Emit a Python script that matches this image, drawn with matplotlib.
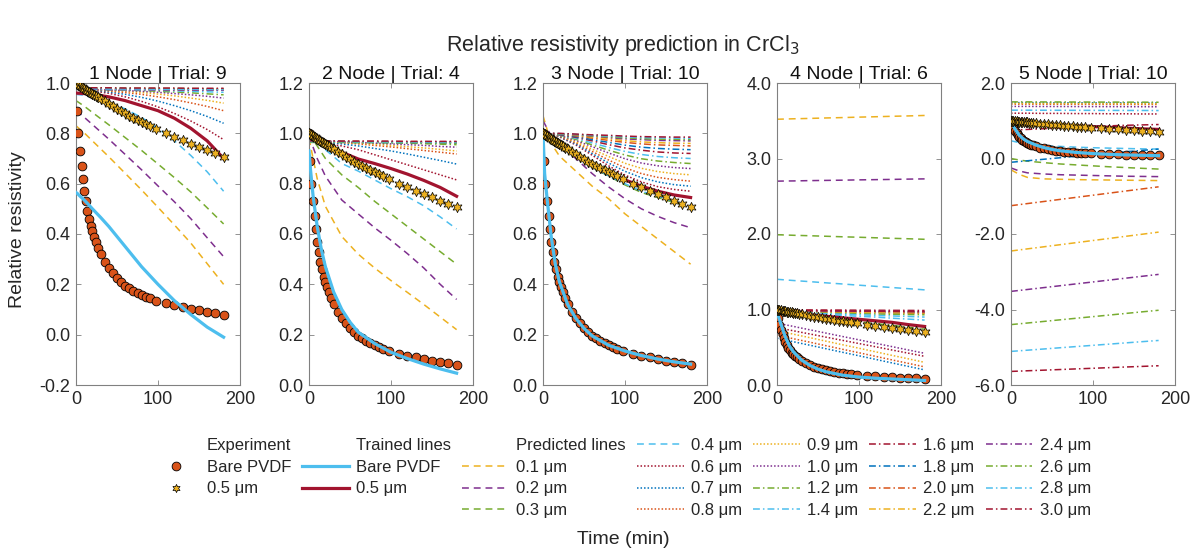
import matplotlib
matplotlib.use('Agg')
import matplotlib.pyplot as plt
from matplotlib.lines import Line2D
from matplotlib.ticker import FormatStrFormatter

plt.rcParams['font.family'] = ['Liberation Sans', 'DejaVu Sans']
plt.rcParams['axes.unicode_minus'] = False

# ---------------- data ----------------
T_EXP = [0, 1, 3, 5, 7, 8.5, 10, 12, 14, 16, 18, 20, 22, 24, 27, 30, 35, 40, 45, 50, 55, 60,
         65, 70, 75, 80, 85, 90, 98, 110, 120, 130, 140, 150, 160, 170, 180]
EXP_BARE = [1.0, 0.89, 0.80, 0.73, 0.67, 0.62, 0.57, 0.53, 0.49, 0.46, 0.43, 0.41, 0.39, 0.37,
            0.345, 0.32, 0.29, 0.265, 0.245, 0.225, 0.21, 0.195, 0.185, 0.175, 0.165, 0.158,
            0.15, 0.145, 0.135, 0.125, 0.117, 0.11, 0.103, 0.097, 0.092, 0.087, 0.08]
EXP_05 = [1.0, 0.997, 0.993, 0.988, 0.984, 0.98, 0.977, 0.973, 0.969, 0.965, 0.961, 0.957,
          0.953, 0.949, 0.943, 0.937, 0.927, 0.917, 0.907, 0.897, 0.888, 0.879, 0.87, 0.861,
          0.853, 0.845, 0.837, 0.829, 0.817, 0.80, 0.786, 0.772, 0.759, 0.746, 0.733, 0.72, 0.707]

T_FIT = [0, 2, 5, 10, 15, 20, 30, 40, 50, 60, 80, 100, 120, 140, 160, 180]
T_PRED = [0, 10, 20, 40, 60, 80, 100, 120, 140, 160, 180]

THICKNESS = ['0.1', '0.2', '0.3', '0.4', '0.6', '0.7', '0.8', '0.9', '1.0', '1.2', '1.4',
             '1.6', '1.8', '2.0', '2.2', '2.4', '2.6', '2.8', '3.0']

PANEL_TITLES = ['1 Node | Trial: 9', '2 Node | Trial: 4', '3 Node | Trial: 10',
                '4 Node | Trial: 6', '5 Node | Trial: 10']
YLIMS = [(-0.2, 1.0), (0.0, 1.2), (0.0, 1.2), (0.0, 4.0), (-6.0, 2.0)]
YTICKS = [[-0.2, 0.0, 0.2, 0.4, 0.6, 0.8, 1.0],
          [0.0, 0.2, 0.4, 0.6, 0.8, 1.0, 1.2],
          [0.0, 0.2, 0.4, 0.6, 0.8, 1.0, 1.2],
          [0.0, 1.0, 2.0, 3.0, 4.0],
          [-6.0, -4.0, -2.0, 0.0, 2.0]]

# trained lines (bare PVDF on T_FIT, 0.5 um on T_PRED)
P1_BARE = [0.565, 0.56, 0.55, 0.535, 0.518, 0.50, 0.466, 0.43, 0.39, 0.35, 0.27, 0.20, 0.135, 0.08, 0.03, -0.01]
P2_BARE = [0.93, 0.85, 0.75, 0.63, 0.54, 0.47, 0.37, 0.30, 0.25, 0.21, 0.165, 0.13, 0.105, 0.083, 0.064, 0.047]
P3_BARE = [1.0, 0.84, 0.74, 0.59, 0.48, 0.41, 0.32, 0.265, 0.225, 0.195, 0.158, 0.135, 0.117, 0.103, 0.092, 0.083]
P4_BARE = [1.0, 0.9, 0.8, 0.64, 0.52, 0.44, 0.33, 0.26, 0.21, 0.175, 0.13, 0.105, 0.09, 0.08, 0.07, 0.06]
P5_BARE = [1.0, 0.9, 0.78, 0.62, 0.52, 0.45, 0.36, 0.29, 0.24, 0.205, 0.16, 0.13, 0.11, 0.095, 0.085, 0.075]

P1_05 = [0.96, 0.958, 0.955, 0.945, 0.93, 0.91, 0.89, 0.86, 0.82, 0.77, 0.70]
P2_05 = [1.0, 0.985, 0.96, 0.925, 0.898, 0.88, 0.86, 0.838, 0.813, 0.785, 0.75]
P3_05 = [1.0, 0.985, 0.965, 0.92, 0.875, 0.845, 0.815, 0.79, 0.77, 0.755, 0.745]
P4_05 = [0.97, 0.96, 0.95, 0.93, 0.91, 0.89, 0.87, 0.85, 0.83, 0.80, 0.775]
P5_05 = [1.0, 0.98, 0.96, 0.92, 0.89, 0.865, 0.845, 0.825, 0.805, 0.785, 0.77]

# predicted lines, one row per thickness (on T_PRED)
P1_PRED = [
    [0.83, 0.802, 0.77, 0.707, 0.641, 0.575, 0.506, 0.436, 0.364, 0.282, 0.20],
    [0.89, 0.864, 0.835, 0.777, 0.716, 0.655, 0.591, 0.528, 0.461, 0.385, 0.31],
    [0.93, 0.908, 0.883, 0.834, 0.783, 0.732, 0.678, 0.624, 0.567, 0.504, 0.44],
    [0.955, 0.951, 0.943, 0.924, 0.897, 0.863, 0.82, 0.77, 0.712, 0.647, 0.57],
    [0.975, 0.973, 0.969, 0.959, 0.945, 0.927, 0.905, 0.879, 0.849, 0.815, 0.775],
    [0.975, 0.974, 0.971, 0.964, 0.955, 0.943, 0.928, 0.91, 0.89, 0.867, 0.84],
    [0.975, 0.974, 0.972, 0.968, 0.962, 0.955, 0.945, 0.934, 0.921, 0.907, 0.89],
    [0.975, 0.974, 0.973, 0.971, 0.967, 0.962, 0.956, 0.949, 0.94, 0.931, 0.92],
    [0.975, 0.975, 0.974, 0.972, 0.97, 0.967, 0.963, 0.958, 0.953, 0.947, 0.94],
    [0.975, 0.975, 0.974, 0.973, 0.972, 0.97, 0.967, 0.964, 0.961, 0.957, 0.953],
    [0.975, 0.975, 0.975, 0.974, 0.973, 0.972, 0.971, 0.969, 0.967, 0.965, 0.963],
    [0.977, 0.977, 0.977, 0.976, 0.976, 0.975, 0.975, 0.974, 0.974, 0.973, 0.972],
    [0.979, 0.979, 0.979, 0.978, 0.978, 0.977, 0.977, 0.977, 0.976, 0.976, 0.975],
    [0.976, 0.976, 0.976, 0.975, 0.975, 0.975, 0.974, 0.974, 0.974, 0.973, 0.973],
    [0.978, 0.978, 0.978, 0.977, 0.977, 0.977, 0.976, 0.976, 0.976, 0.975, 0.975],
    [0.975, 0.975, 0.975, 0.974, 0.974, 0.974, 0.973, 0.973, 0.972, 0.972, 0.971],
    [0.98, 0.98, 0.98, 0.979, 0.979, 0.979, 0.978, 0.978, 0.978, 0.977, 0.977],
    [0.977, 0.977, 0.977, 0.976, 0.976, 0.976, 0.975, 0.975, 0.975, 0.974, 0.974],
    [0.981, 0.981, 0.981, 0.981, 0.98, 0.98, 0.98, 0.98, 0.979, 0.979, 0.979],
]
P2_PRED = [
    [0.98, 0.82, 0.71, 0.59, 0.52, 0.465, 0.415, 0.368, 0.32, 0.27, 0.22],
    [0.99, 0.90, 0.83, 0.735, 0.68, 0.625, 0.575, 0.522, 0.465, 0.40, 0.34],
    [1.0, 0.95, 0.90, 0.835, 0.785, 0.73, 0.68, 0.63, 0.58, 0.53, 0.48],
    [1.0, 0.97, 0.935, 0.88, 0.85, 0.815, 0.78, 0.748, 0.712, 0.668, 0.62],
    [0.97, 0.965, 0.96, 0.95, 0.935, 0.915, 0.895, 0.875, 0.855, 0.835, 0.815],
    [0.97, 0.968, 0.965, 0.958, 0.95, 0.94, 0.93, 0.918, 0.905, 0.892, 0.878],
    [0.97, 0.969, 0.967, 0.963, 0.958, 0.952, 0.946, 0.939, 0.932, 0.925, 0.918],
    [0.97, 0.969, 0.968, 0.965, 0.961, 0.957, 0.952, 0.947, 0.942, 0.936, 0.93],
    [0.97, 0.97, 0.969, 0.967, 0.964, 0.961, 0.958, 0.955, 0.952, 0.948, 0.945],
    [0.97, 0.97, 0.969, 0.968, 0.967, 0.965, 0.963, 0.961, 0.959, 0.957, 0.955],
    [0.968, 0.968, 0.967, 0.967, 0.966, 0.966, 0.965, 0.964, 0.963, 0.962, 0.961],
    [0.967, 0.967, 0.967, 0.966, 0.966, 0.966, 0.966, 0.965, 0.965, 0.965, 0.965],
    [0.965, 0.965, 0.965, 0.964, 0.964, 0.964, 0.963, 0.963, 0.963, 0.962, 0.962],
    [0.969, 0.969, 0.969, 0.968, 0.968, 0.968, 0.967, 0.967, 0.967, 0.966, 0.966],
    [0.966, 0.966, 0.966, 0.966, 0.965, 0.965, 0.965, 0.965, 0.964, 0.964, 0.964],
    [0.968, 0.968, 0.968, 0.967, 0.967, 0.967, 0.967, 0.966, 0.966, 0.966, 0.966],
    [0.964, 0.964, 0.964, 0.964, 0.963, 0.963, 0.963, 0.963, 0.962, 0.962, 0.962],
    [0.967, 0.967, 0.967, 0.967, 0.966, 0.966, 0.966, 0.966, 0.965, 0.965, 0.965],
    [0.97, 0.97, 0.97, 0.969, 0.969, 0.969, 0.969, 0.968, 0.968, 0.968, 0.968],
]
P3_PRED = [
    [1.07, 0.96, 0.91, 0.85, 0.79, 0.74, 0.68, 0.63, 0.58, 0.53, 0.48],
    [1.05, 0.99, 0.955, 0.90, 0.84, 0.787, 0.74, 0.70, 0.67, 0.645, 0.625],
    [1.0, 0.98, 0.955, 0.91, 0.865, 0.83, 0.795, 0.765, 0.745, 0.725, 0.71],
    [1.0, 0.98, 0.955, 0.91, 0.87, 0.83, 0.80, 0.77, 0.75, 0.73, 0.715],
    [1.0, 0.995, 0.986, 0.954, 0.913, 0.871, 0.834, 0.807, 0.788, 0.777, 0.77],
    [1.0, 0.996, 0.987, 0.958, 0.92, 0.882, 0.849, 0.824, 0.807, 0.796, 0.79],
    [1.0, 0.996, 0.989, 0.962, 0.928, 0.894, 0.863, 0.84, 0.825, 0.816, 0.81],
    [1.0, 0.997, 0.99, 0.967, 0.937, 0.908, 0.881, 0.861, 0.848, 0.84, 0.835],
    [1.0, 0.997, 0.992, 0.972, 0.947, 0.922, 0.899, 0.882, 0.871, 0.864, 0.86],
    [1.0, 0.998, 0.993, 0.976, 0.954, 0.933, 0.914, 0.899, 0.89, 0.884, 0.88],
    [1.0, 0.998, 0.994, 0.98, 0.962, 0.944, 0.928, 0.916, 0.908, 0.903, 0.90],
    [1.0, 0.998, 0.995, 0.984, 0.97, 0.955, 0.942, 0.933, 0.926, 0.922, 0.92],
    [1.0, 0.999, 0.996, 0.987, 0.975, 0.964, 0.953, 0.945, 0.94, 0.937, 0.935],
    [1.0, 0.999, 0.997, 0.99, 0.981, 0.972, 0.964, 0.958, 0.954, 0.952, 0.95],
    [1.0, 0.999, 0.998, 0.992, 0.985, 0.978, 0.971, 0.966, 0.963, 0.961, 0.96],
    [1.0, 0.999, 0.998, 0.994, 0.989, 0.983, 0.978, 0.975, 0.972, 0.971, 0.97],
    [1.0, 1.0, 0.998, 0.995, 0.99, 0.986, 0.982, 0.979, 0.977, 0.976, 0.975],
    [1.0, 1.0, 0.999, 0.996, 0.992, 0.989, 0.986, 0.983, 0.982, 0.981, 0.98],
    [1.0, 1.0, 1.0, 0.997, 0.994, 0.992, 0.989, 0.987, 0.986, 0.985, 0.985],
]
P4_PRED = [
    [3.52, 3.523, 3.526, 3.531, 3.537, 3.542, 3.548, 3.553, 3.559, 3.564, 3.57],
    [2.70, 2.702, 2.703, 2.707, 2.71, 2.713, 2.717, 2.72, 2.723, 2.727, 2.73],
    [1.99, 1.987, 1.983, 1.977, 1.97, 1.963, 1.957, 1.95, 1.943, 1.937, 1.93],
    [1.40, 1.392, 1.384, 1.369, 1.353, 1.338, 1.322, 1.307, 1.291, 1.276, 1.26],
    [0.76, 0.739, 0.718, 0.676, 0.633, 0.591, 0.549, 0.507, 0.464, 0.422, 0.38],
    [0.62, 0.597, 0.573, 0.527, 0.48, 0.433, 0.387, 0.34, 0.293, 0.247, 0.20],
    [0.66, 0.637, 0.613, 0.567, 0.52, 0.473, 0.427, 0.38, 0.333, 0.287, 0.24],
    [0.72, 0.697, 0.673, 0.627, 0.58, 0.533, 0.487, 0.44, 0.393, 0.347, 0.30],
    [0.82, 0.798, 0.776, 0.731, 0.687, 0.642, 0.598, 0.553, 0.509, 0.464, 0.42],
    [0.95, 0.94, 0.93, 0.91, 0.89, 0.865, 0.84, 0.815, 0.79, 0.765, 0.74],
    [0.96, 0.955, 0.95, 0.94, 0.93, 0.92, 0.91, 0.90, 0.885, 0.873, 0.86],
    [0.995, 0.995, 0.994, 0.994, 0.993, 0.992, 0.991, 0.99, 0.989, 0.988, 0.987],
    [0.98, 0.979, 0.978, 0.976, 0.974, 0.972, 0.97, 0.968, 0.965, 0.962, 0.96],
    [0.97, 0.969, 0.968, 0.966, 0.964, 0.962, 0.96, 0.958, 0.955, 0.952, 0.95],
    [0.975, 0.974, 0.973, 0.971, 0.969, 0.967, 0.965, 0.963, 0.96, 0.958, 0.955],
    [0.985, 0.984, 0.984, 0.982, 0.98, 0.979, 0.977, 0.975, 0.974, 0.972, 0.97],
    [0.96, 0.958, 0.957, 0.953, 0.95, 0.947, 0.943, 0.94, 0.937, 0.933, 0.93],
    [0.965, 0.961, 0.958, 0.951, 0.944, 0.937, 0.93, 0.922, 0.915, 0.908, 0.90],
    [0.99, 0.989, 0.988, 0.986, 0.984, 0.982, 0.98, 0.978, 0.976, 0.974, 0.972],
]
P5_PRED = [
    [-0.30, -0.42, -0.50, -0.54, -0.55, -0.56, -0.565, -0.57, -0.575, -0.58, -0.585],
    [-0.25, -0.33, -0.38, -0.41, -0.43, -0.44, -0.45, -0.46, -0.47, -0.475, -0.48],
    [0.0, -0.04, -0.07, -0.11, -0.145, -0.17, -0.195, -0.22, -0.24, -0.26, -0.28],
    [0.47, 0.42, 0.38, 0.34, 0.32, 0.30, 0.285, 0.275, 0.265, 0.255, 0.25],
    [1.20, 1.20, 1.20, 1.195, 1.195, 1.19, 1.19, 1.185, 1.185, 1.18, 1.18],
    [1.48, 1.48, 1.48, 1.478, 1.477, 1.476, 1.475, 1.474, 1.473, 1.472, 1.47],
    [1.44, 1.44, 1.44, 1.438, 1.437, 1.436, 1.435, 1.434, 1.433, 1.432, 1.43],
    [1.46, 1.46, 1.46, 1.458, 1.457, 1.456, 1.455, 1.454, 1.453, 1.452, 1.45],
    [1.38, 1.38, 1.38, 1.378, 1.377, 1.376, 1.375, 1.374, 1.373, 1.372, 1.37],
    [1.50, 1.50, 1.50, 1.498, 1.497, 1.496, 1.495, 1.494, 1.493, 1.492, 1.49],
    [1.28, 1.28, 1.28, 1.278, 1.277, 1.276, 1.275, 1.274, 1.273, 1.272, 1.27],
    [0.75, 0.76, 0.77, 0.79, 0.81, 0.83, 0.85, 0.865, 0.88, 0.89, 0.90],
    [-0.10, -0.08, -0.06, -0.02, 0.02, 0.06, 0.10, 0.14, 0.18, 0.215, 0.25],
    [-1.25, -1.222, -1.194, -1.139, -1.083, -1.028, -0.972, -0.917, -0.861, -0.806, -0.75],
    [-2.45, -2.422, -2.394, -2.339, -2.283, -2.228, -2.172, -2.117, -2.061, -2.006, -1.95],
    [-3.52, -3.495, -3.47, -3.42, -3.37, -3.32, -3.27, -3.22, -3.17, -3.12, -3.07],
    [-4.40, -4.379, -4.358, -4.316, -4.273, -4.231, -4.189, -4.147, -4.104, -4.062, -4.02],
    [-5.11, -5.094, -5.078, -5.046, -5.013, -4.981, -4.949, -4.917, -4.884, -4.852, -4.82],
    [-5.64, -5.632, -5.623, -5.607, -5.59, -5.573, -5.557, -5.54, -5.523, -5.507, -5.49],
]

# ---------------- style ----------------
BLUE = (0.0, 0.447, 0.741)
ORANGE = (0.85, 0.325, 0.098)
YELLOW = (0.929, 0.694, 0.125)
PURPLE = (0.494, 0.184, 0.556)
GREEN = (0.466, 0.674, 0.188)
LBLUE = (0.301, 0.745, 0.933)
DRED = (0.635, 0.078, 0.184)
PRED_COLORS = [YELLOW, PURPLE, GREEN, LBLUE, DRED, BLUE, ORANGE, YELLOW, PURPLE, GREEN,
               LBLUE, DRED, BLUE, ORANGE, YELLOW, PURPLE, GREEN, LBLUE, DRED]
DASHED = (0, (4.5, 3.2))
DOTTED = (0, (1.0, 1.3))
DASHDOT = (0, (4.5, 2.0, 1.0, 2.0))
PRED_STYLES = [DASHED] * 4 + [DOTTED] * 5 + [DASHDOT] * 10

TXT = '#262626'
SPINE = '#808080'
STAR = (6, 1, 0)

FW, FH = 1192, 554
fig = plt.figure(figsize=(FW / 100, FH / 100), dpi=100)
lefts = [76, 309, 543, 777, 1011]
ax_w, ax_top, ax_bot = 164, 83, 385

bares = [P1_BARE, P2_BARE, P3_BARE, P4_BARE, P5_BARE]
trained05 = [P1_05, P2_05, P3_05, P4_05, P5_05]
preds = [P1_PRED, P2_PRED, P3_PRED, P4_PRED, P5_PRED]

for i in range(5):
    ax = fig.add_axes([lefts[i] / FW, 1 - ax_bot / FH, ax_w / FW, (ax_bot - ax_top) / FH])
    for row, col, ls in zip(preds[i], PRED_COLORS, PRED_STYLES):
        ax.plot(T_PRED, row, color=col, linestyle=ls, lw=1.1)
    ax.plot(T_EXP, EXP_BARE, 'o', ms=6.3, mfc=ORANGE, mec='black', mew=0.6, zorder=3)
    ax.plot(T_FIT, bares[i], '-', color=LBLUE, lw=2.3, zorder=4)
    ax.plot(T_PRED, trained05[i], '-', color=DRED, lw=2.3, zorder=4)
    ax.plot(T_EXP, EXP_05, linestyle='none', marker=STAR, ms=7.5, mfc=YELLOW, mec='black',
            mew=0.5, zorder=5)
    ax.set_xlim(0, 200)
    ax.set_xticks([0, 100, 200])
    ax.set_ylim(*YLIMS[i])
    ax.set_yticks(YTICKS[i])
    ax.yaxis.set_major_formatter(FormatStrFormatter('%.1f'))
    ax.tick_params(direction='in', top=True, right=True, length=3.5, width=0.6,
                   labelsize=13, labelcolor=TXT, color=SPINE, pad=4)
    for sp in ax.spines.values():
        sp.set_color(SPINE)
        sp.set_linewidth(0.8)
    ax.set_title(PANEL_TITLES[i], fontsize=14, color='#111111', pad=3)

fig.text(18 / FW, 1 - 230 / FH, 'Relative resistivity', rotation=90, ha='center',
         va='center', fontsize=14, color=TXT)
fig.text(623 / FW, 1 - 46 / FH, 'Relative resistivity prediction in CrCl$_3$', ha='center',
         va='center', fontsize=15.5, color=TXT)
fig.text(623 / FW, 1 - 540 / FH, 'Time (min)', ha='center', va='center', fontsize=14,
         color=TXT)

# ---------------- legend ----------------
blank = Line2D([], [], color='none')
h_circ = Line2D([], [], linestyle='none', marker='o', ms=6.3, mfc=ORANGE, mec='black', mew=0.6)
h_star = Line2D([], [], linestyle='none', marker=STAR, ms=6, mfc=YELLOW, mec='black', mew=0.5)
h_bare = Line2D([], [], color=LBLUE, lw=2.3)
h_05 = Line2D([], [], color=DRED, lw=2.3)
pred_handles = [Line2D([], [], color=c, linestyle=s, lw=1.1) for c, s in zip(PRED_COLORS, PRED_STYLES)]
pred_labels = [t + ' μm' for t in THICKNESS]

handles = [blank, h_circ, h_star, blank,
           blank, h_bare, h_05, blank,
           blank] + pred_handles
labels = ['Experiment', 'Bare PVDF', '0.5 μm', '',
          'Trained lines', 'Bare PVDF', '0.5 μm', '',
          'Predicted lines'] + pred_labels
leg = fig.legend(handles, labels, ncol=7, loc='center', bbox_to_anchor=(622 / FW, 1 - 478 / FH),
                 frameon=False, fontsize=12, handlelength=2.8, handletextpad=0.45,
                 columnspacing=0.65, labelspacing=0.40, borderpad=0.2)
for t in leg.get_texts():
    t.set_color(TXT)

fig.savefig('out.png', dpi=100)
